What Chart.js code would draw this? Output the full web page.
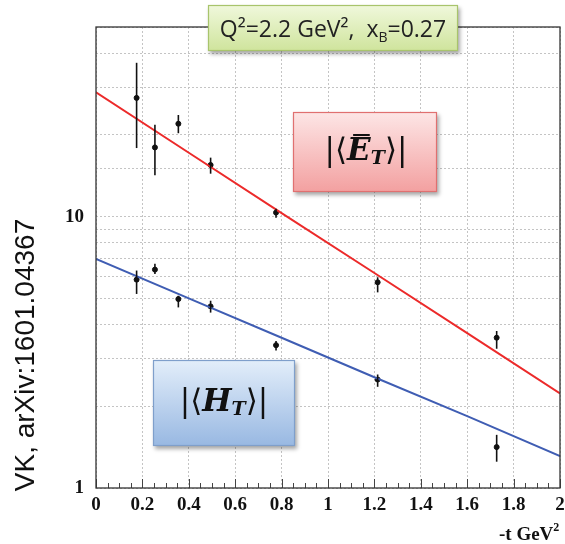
<!DOCTYPE html>
<html>
<head>
<meta charset="utf-8">
<script src="https://cdn.jsdelivr.net/npm/chart.js@4/dist/chart.umd.min.js"></script>
<style>
  html, body { margin: 0; padding: 0; background: #fff; }
</style>
</head>
<body>
<canvas id="chart" width="565" height="544"></canvas>
<script>
// -t values of the measured points
const tValues = [0.175, 0.254, 0.355, 0.494, 0.776, 1.214, 1.727];

// |<E_T bar>| points and error bars
const etValues = [27.4, 18.0, 22.0, 15.5, 10.35, 5.73, 3.58];
const etErrLow = [17.9, 14.2, 20.3, 14.4, 9.9, 5.26, 3.26];
const etErrHigh = [36.9, 21.8, 23.7, 16.5, 10.7, 5.98, 3.79];

// |<H_T>| points and error bars
const htValues = [5.86, 6.38, 4.97, 4.67, 3.36, 2.51, 1.415];
const htErrLow = [5.19, 6.15, 4.63, 4.43, 3.21, 2.36, 1.25];
const htErrHigh = [6.33, 6.7, 5.11, 4.9, 3.48, 2.62, 1.57];

// fit curves
const fitT = [0, 0.4, 0.8, 1.2, 1.6, 2.0];
const etFit = [28.7, 17.2, 10.3, 6.2, 3.72, 2.23];
const htFit = [6.99, 5.0, 3.58, 2.56, 1.84, 1.31];

const yTickLabels = ['1', '10'];
const kinematics = 'Q²=2.2 GeV²,  x';
const yTitle = 'VK, arXiv:1601.04367';

const toPoints = (xs, ys) => xs.map((x, i) => ({ x: x, y: ys[i] }));

function drawBox(ctx, x, y, w, h, top, bottom, border) {
    ctx.save();
    ctx.shadowColor = 'rgba(0,0,0,0.35)';
    ctx.shadowOffsetX = 2;
    ctx.shadowOffsetY = 3;
    ctx.shadowBlur = 4;
    const g = ctx.createLinearGradient(0, y, 0, y + h);
    g.addColorStop(0, top);
    g.addColorStop(1, bottom);
    ctx.fillStyle = g;
    ctx.fillRect(x, y, w, h);
    ctx.restore();
    ctx.save();
    ctx.strokeStyle = border;
    ctx.lineWidth = 1.2;
    ctx.strokeRect(x + 0.5, y + 0.5, w - 1, h - 1);
    ctx.restore();
}

// |<X_T>| with optional bar over X
function drawMathLabel(ctx, cx, cy, letter, bar) {
    const size = 31;
    const upright = size + 'px "DejaVu Serif", "Liberation Serif", serif';
    const bold = 'bold italic ' + size + 'px "DejaVu Serif", "Liberation Serif", serif';
    const sub = 'bold italic ' + Math.round(size * 0.62) + 'px "DejaVu Serif", "Liberation Serif", serif';
    const parts = [
        { t: '|\u27E8', f: upright, dy: 0 },
        { t: letter, f: bold, dy: 0, bar: bar },
        { t: 'T', f: sub, dy: 7 },
        { t: '\u27E9|', f: upright, dy: 0 }
    ];
    ctx.save();
    ctx.fillStyle = '#111';
    ctx.textBaseline = 'middle';
    let total = 0;
    parts.forEach(p => { ctx.font = p.f; p.w = ctx.measureText(p.t).width; total += p.w; });
    let x = cx - total / 2;
    parts.forEach(p => {
        ctx.font = p.f;
        ctx.fillText(p.t, x, cy + p.dy);
        if (p.bar) {
            ctx.strokeStyle = '#111';
            ctx.lineWidth = 2;
            ctx.beginPath();
            ctx.moveTo(x + 6, cy - 17);
            ctx.lineTo(x + p.w - 1, cy - 17);
            ctx.stroke();
        }
        x += p.w;
    });
    ctx.restore();
}

const decorations = {
    id: 'decorations',
    beforeDatasetsDraw(chart) {
        const { ctx, chartArea: a, scales } = chart;
        // minor ticks on the t axis
        ctx.save();
        ctx.strokeStyle = '#444';
        ctx.lineWidth = 1;
        for (let i = 0; i <= 40; i++) {
            const px = Math.round(scales.x.getPixelForValue(i * 0.05)) + 0.5;
            const len = i % 4 === 0 ? 9 : 5;
            ctx.beginPath();
            ctx.moveTo(px, a.bottom);
            ctx.lineTo(px, a.bottom - len);
            ctx.stroke();
        }
        ctx.restore();
    },
    afterDatasetsDraw(chart) {
        const { ctx, chartArea: a, scales } = chart;
        const x = scales.x, y = scales.y;
        // error bars
        ctx.save();
        ctx.strokeStyle = '#111';
        ctx.lineWidth = 1.6;
        [[etErrLow, etErrHigh], [htErrLow, htErrHigh]].forEach(([lo, hi]) => {
            tValues.forEach((t, i) => {
                const px = x.getPixelForValue(t);
                ctx.beginPath();
                ctx.moveTo(px, y.getPixelForValue(lo[i]));
                ctx.lineTo(px, y.getPixelForValue(hi[i]));
                ctx.stroke();
            });
        });
        ctx.restore();

        // frame
        ctx.save();
        ctx.strokeStyle = '#333';
        ctx.lineWidth = 1.3;
        ctx.strokeRect(a.left, a.top, a.right - a.left, a.bottom - a.top);
        ctx.restore();

        // kinematics box
        drawBox(ctx, 208, 5, 250, 46, '#f0f8dc', '#cfe49c', '#a8c46c');
        ctx.save();
        ctx.fillStyle = '#222';
        ctx.font = '23px "Open Sans", "Liberation Sans", sans-serif';
        ctx.textBaseline = 'alphabetic';
        const main = kinematics;
        const w1 = ctx.measureText(main).width;
        ctx.font = '14px "Open Sans", "Liberation Sans", sans-serif';
        const wb = ctx.measureText('B').width;
        ctx.font = '23px "Open Sans", "Liberation Sans", sans-serif';
        const w2 = ctx.measureText('=0.27').width;
        let sx = 333 - (w1 + wb + w2) / 2;
        ctx.fillText(main, sx, 37);
        ctx.font = '14px "Open Sans", "Liberation Sans", sans-serif';
        ctx.fillText('B', sx + w1, 42);
        ctx.font = '23px "Open Sans", "Liberation Sans", sans-serif';
        ctx.fillText('=0.27', sx + w1 + wb, 37);
        ctx.restore();

        // curve labels
        drawBox(ctx, 293, 112, 144, 80, '#fde6e6', '#f3a0a0', '#e07070');
        drawMathLabel(ctx, 366, 152, 'E', true);
        drawBox(ctx, 153, 360, 142, 86, '#e3eefa', '#98b8e2', '#7f9fcb');
        drawMathLabel(ctx, 224, 403, 'H', false);

        // axis titles
        ctx.save();
        ctx.fillStyle = '#111';
        ctx.font = 'bold 19px "Liberation Serif", "DejaVu Serif", serif';
        ctx.textBaseline = 'alphabetic';
        ctx.fillText('-t GeV', 499, 540);
        const wt = ctx.measureText('-t GeV').width;
        ctx.font = 'bold 12px "Liberation Serif", "DejaVu Serif", serif';
        ctx.fillText('2', 499 + wt, 531);
        ctx.restore();

        ctx.save();
        ctx.translate(26, 355);
        ctx.rotate(-Math.PI / 2);
        ctx.fillStyle = '#111';
        ctx.font = '28px "Liberation Sans", Arial, sans-serif';
        ctx.textAlign = 'center';
        ctx.textBaseline = 'middle';
        ctx.fillText(yTitle, 0, 0);
        ctx.restore();
    }
};

new Chart(document.getElementById('chart'), {
    type: 'scatter',
    data: {
        datasets: [
            {
                label: 'E_T fit',
                data: toPoints(fitT, etFit),
                showLine: true,
                borderColor: '#ec2a2a',
                borderWidth: 2,
                pointRadius: 0
            },
            {
                label: 'H_T fit',
                data: toPoints(fitT, htFit),
                showLine: true,
                borderColor: '#3f5db3',
                borderWidth: 2,
                pointRadius: 0
            },
            {
                label: 'E_T',
                data: toPoints(tValues, etValues),
                backgroundColor: '#111',
                borderColor: '#111',
                pointRadius: 2.5
            },
            {
                label: 'H_T',
                data: toPoints(tValues, htValues),
                backgroundColor: '#111',
                borderColor: '#111',
                pointRadius: 2.5
            }
        ]
    },
    options: {
        responsive: false,
        animation: false,
        devicePixelRatio: 1,
        layout: { padding: { top: 27, right: 5, left: 0, bottom: 0 } },
        plugins: {
            legend: { display: false },
            tooltip: { enabled: false }
        },
        scales: {
            x: {
                type: 'linear',
                min: 0,
                max: 2,
                afterFit: s => { s.height = 56; s.paddingRight = 0; s.paddingLeft = 0; },
                grid: { color: '#c4c4c4', drawTicks: false },
                border: { display: false, dash: [2, 2] },
                ticks: {
                    stepSize: 0.2,
                    padding: 6,
                    color: '#111',
                    font: { family: '"Liberation Serif", serif', size: 19, weight: 'bold' },
                    callback: v => String(Number(v.toFixed(1)))
                }
            },
            y: {
                type: 'logarithmic',
                min: 1,
                max: 50,
                afterFit: s => { s.width = 96; s.paddingTop = 0; s.paddingBottom = 0; },
                grid: { color: '#c4c4c4', drawTicks: false },
                border: { display: false, dash: [2, 2] },
                ticks: {
                    autoSkip: false,
                    padding: 12,
                    color: '#111',
                    font: { family: '"Liberation Serif", serif', size: 19, weight: 'bold' },
                    callback: v => yTickLabels.includes(String(v)) ? String(v) : ''
                }
            }
        }
    },
    plugins: [decorations]
});
</script>
</body>
</html>
